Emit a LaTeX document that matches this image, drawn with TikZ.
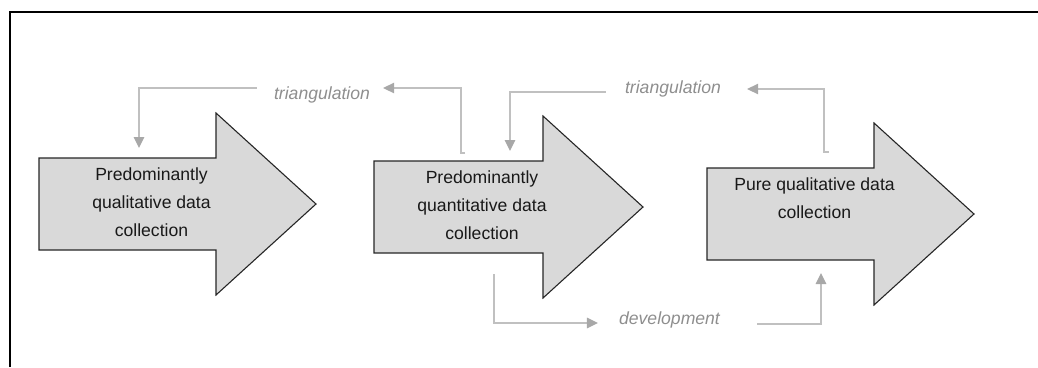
\documentclass[tikz,border=0pt]{standalone}
\usepackage{fontspec}
\setmainfont{Liberation Sans}
\usetikzlibrary{arrows.meta,calc}

\definecolor{arrowfill}{HTML}{D9D9D9}
\definecolor{linkgray}{HTML}{C0C0C0}
\definecolor{tipgray}{HTML}{A8A8A8}
\definecolor{labelgray}{HTML}{8E8E8E}

\begin{document}
\begin{tikzpicture}[
  x=1pt,y=-1pt,
  font=\fontsize{17.6}{28}\selectfont,
  bigarrow/.style={draw=black!85,fill=arrowfill,line width=1.1pt,line join=miter},
  boxtxt/.style={anchor=north,align=center,inner sep=0pt,text=black!90},
  lbl/.style={anchor=base,inner sep=0pt,text=labelgray,font=\fontsize{17.6}{20}\selectfont\itshape},
  link/.style={draw=linkgray,line width=1.3pt,
               -{Triangle[length=11pt,width=10.5pt,color=tipgray]}}
]
\useasboundingbox (0,0) rectangle (1038,367);
% frame
\draw[line width=1.6pt] (10,367) -- (10,12) -- (1038,12);
% the three big arrows
\foreach \x/\y/\l in {39/158/177, 374/161/169, 707/168/167}
  \draw[bigarrow] (\x,\y) -- ++(\l,0) -- ++(0,-45) -- ++(100,91)
    -- ++(-100,91) -- ++(0,-45) -- ++(-\l,0) -- cycle;
\node[boxtxt] (qual)  at (151.5,168) {Predominantly\\qualitative data\\collection};
\node[boxtxt] (quant) at (482,171)   {Predominantly\\quantitative data\\collection};
\node[boxtxt] (pure)  at (814.5,178) {Pure qualitative data\\collection};
% attachment points
\coordinate (qual-in)  at (139,148);
\coordinate (quant-in) at (510,151);
\coordinate (quant-up) at (465,153);
\coordinate (quant-dn) at (494,274);
\coordinate (pure-up)  at (829,152);
\coordinate (pure-in)  at (821,273);
% labels
\node[lbl] (tri1) at (322,99)    {triangulation};
\node[lbl] (tri2) at (673,93)    {triangulation};
\node[lbl] (dev)  at (669.5,324) {development};
% connectors
\draw[link] (quant-up) -- ++(-4,0) |- ([shift={(13,-11)}]tri1.base east);
\draw[link] ([shift={(-17,-11)}]tri1.base west) -| (qual-in);
\draw[link] (pure-up) -- ++(-5,0) |- ([shift={(26,-4)}]tri2.base east);
\draw[link] ([shift={(-19,-1)}]tri2.base west) -| (quant-in);
\draw[link] (quant-dn) |- ([shift={(-21,-1)}]dev.base west);
\draw[link] ([shift={(37,0)}]dev.base east) -| (pure-in);
\end{tikzpicture}
\end{document}
